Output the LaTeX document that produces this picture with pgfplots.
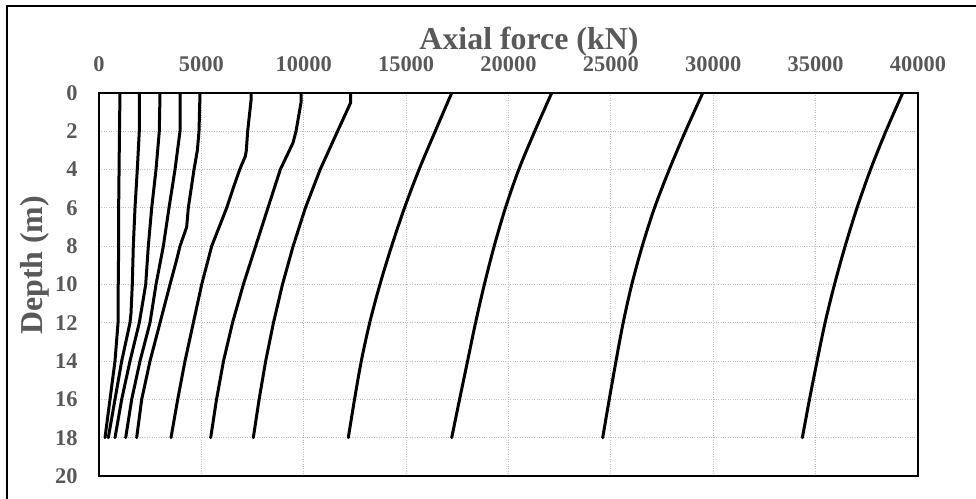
\documentclass[border=0pt]{standalone}
\usepackage{pgfplots}
\pgfplotsset{compat=1.18}
\usepackage{fontspec}
\setmainfont{Liberation Serif}
\definecolor{txtgray}{HTML}{595959}
\definecolor{gridgray}{HTML}{C0C0C0}
\begin{document}
\begin{tikzpicture}[x=1bp,y=1bp]
\useasboundingbox (0,0) rectangle (976,499);
\draw[line width=1.5bp] (7,0) -- (7,493) -- (976,493);
\begin{axis}[
  at={(99bp,23bp)}, anchor=south west,
  scale only axis, width=819bp, height=383bp,
  xmin=0, xmax=40000, ymin=0, ymax=20,
  y dir=reverse,
  xtick={0,5000,...,40000}, ytick={0,2,...,20},
  scaled ticks=false,
  xticklabel pos=upper,
  major tick length=0pt,
  grid=major,
  major grid style={gridgray, dotted, line width=0.9bp},
  axis line style={black, line width=1.3bp},
  /pgf/number format/assume math mode=true,
  /pgf/number format/1000 sep={},
  tick label style={font=\fontsize{22.5}{26}\selectfont\bfseries, text=txtgray},
  xticklabel style={anchor=base, yshift=21bp},
  yticklabel style={anchor=east, xshift=-18bp},
  xlabel={Axial force (kN)},
  ylabel={Depth (m)},
  label style={font=\fontsize{32}{36}\selectfont\bfseries, text=txtgray},
  xlabel style={at={(axis description cs:0.525,1)}, anchor=base, yshift=43bp},
  ylabel style={at={(axis description cs:-0.078,0.55)}, anchor=center, rotate=0},
  every axis plot post/.append style={black, solid, line width=3bp, line join=round, line cap=round, mark=none},
]
\addplot coordinates {(1025,0) (1000,2) (980,4) (960,6) (960,8) (940,10) (940,11.5) (930,12) (781,14) (537,16) (293,18)};
\addplot coordinates {(1968,0) (1968,2) (1870,4) (1758,6) (1675,8) (1626,10) (1563,11.5) (1514,12) (1108,14) (781,16) (454,18)};
\addplot coordinates {(2980,0) (2945,2) (2784,4) (2574,6) (2408,8) (2281,10) (1968,12) (1514,14) (1108,16) (781,18)};
\addplot coordinates {(3956,0) (3956,2) (3712,4) (3419,6) (3142,8) (2784,10) (2491,12) (2003,14) (1597,16) (1303,18)};
\addplot coordinates {(4933,0) (4884,2) (4803,3) (4640,4) (4362,6) (4282,7) (3956,8) (3795,8.7) (3468,10) (2980,12) (2491,14) (2085,16) (1840,18)};
\addplot coordinates {(7424,0) (7424,0.4) (7260,2) (7196,3) (7147,3.3) (6870,4) (6545,5) (6235,6) (5503,8) (5015,10) (4607,12) (4200,14) (3844,16) (3516,18)};
\addplot coordinates {(9866,0) (9866,0.5) (9622,2) (9475,2.6) (8854,4) (8250,6) (7650,8) (7050,10) (6520,12) (6080,14) (5740,16) (5455,18)};
\addplot coordinates {(12293,0) (12293,0.5) (11650,2) (10800,4) (10080,6) (9480,8) (8960,10) (8520,12) (8140,14) (7820,16) (7536,18)};
\addplot[smooth] coordinates {(17225,0) (16420,2) (15630,4) (14920,6) (14290,8) (13720,10) (13220,12) (12810,14) (12480,16) (12176,18)};
\addplot[smooth] coordinates {(22108,0) (21280,2) (20500,4) (19850,6) (19300,8) (18820,10) (18390,12) (18000,14) (17610,16) (17225,18)};
\addplot[smooth] coordinates {(29484,0) (28640,2) (27850,4) (27130,6) (26530,8) (26020,10) (25600,12) (25250,14) (24920,16) (24600,18)};
\addplot[smooth] coordinates {(39250,0) (38430,2) (37680,4) (37020,6) (36440,8) (35920,10) (35460,12) (35070,14) (34700,16) (34350,18)};
\end{axis}
\end{tikzpicture}
\end{document}
